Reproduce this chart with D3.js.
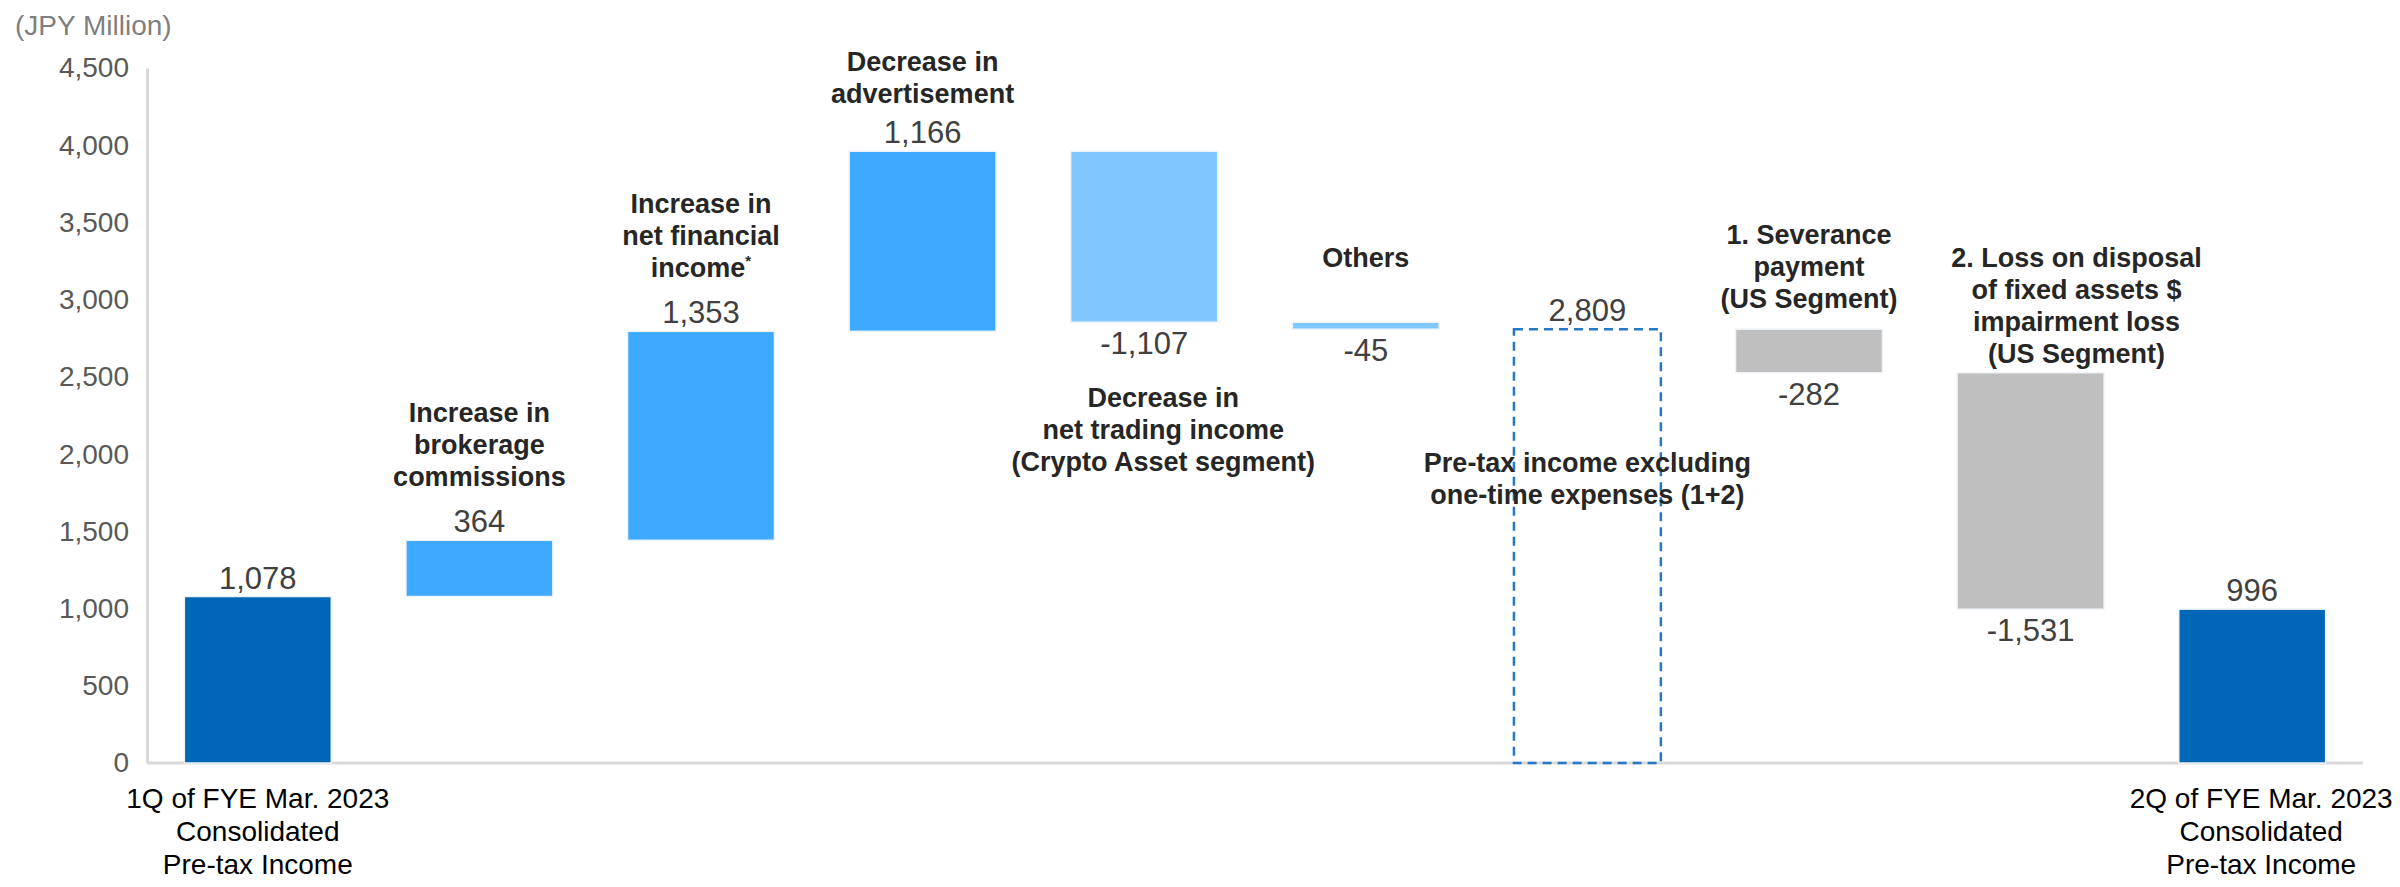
<!DOCTYPE html>
<html>
<head>
<meta charset="utf-8">
<script src="https://cdn.jsdelivr.net/npm/d3@7"></script>
<style>
  body { margin: 0; background: #ffffff; }
  svg { display: block; font-family: "Liberation Sans", Arial, sans-serif; }
</style>
</head>
<body>
<div class="waterfall"></div>
<script>
//Chart data
const categories = ["q1", "brokerage", "financial", "advertisement", "trading", "others", "excluding", "severance", "disposal", "q2"];
const values = [1078, 364, 1353, 1166, -1107, -45, 2809, -282, -1531, 996];
const kinds = ["total", "up", "up", "up", "down", "down", "subtotal", "cost", "cost", "total"];
const yTicks = [0, 500, 1000, 1500, 2000, 2500, 3000, 3500, 4000, 4500];
const unitLabel = "(JPY Million)";
const bottomLabels = {
    q1: ["1Q of FYE Mar. 2023", "Consolidated", "Pre-tax Income"],
    q2: ["2Q of FYE Mar. 2023", "Consolidated", "Pre-tax Income"]
};
const barLabels = {
    brokerage: ["Increase in", "brokerage", "commissions"],
    financial: ["Increase in", "net financial", "income"],
    advertisement: ["Decrease in", "advertisement"],
    trading: ["Decrease in", "net trading income", "(Crypto Asset segment)"],
    others: ["Others"],
    excluding: ["Pre-tax income excluding", "one-time expenses (1+2)"],
    severance: ["1. Severance", "payment", "(US Segment)"],
    disposal: ["2. Loss on disposal", "of fixed assets $", "impairment loss", "(US Segment)"]
};

//Styles and layout
const colors = {
    total: "#0067b6",
    up: "#3daaff",
    down: "#80c6ff",
    cost: "#bfbfbf",
    subtotal: "#2878c8"
};
//first line centre (px) and horizontal nudge for each label block
const labelLayout = {
    brokerage: { y: 412, dx: 0 },
    financial: { y: 203, dx: 0 },
    advertisement: { y: 61, dx: 0 },
    trading: { y: 397, dx: 19 },
    others: { y: 257, dx: 0 },
    excluding: { y: 462, dx: 0 },
    severance: { y: 234, dx: 0 },
    disposal: { y: 257, dx: 46 }
};
const lineGap = 32;

const width = 2400, height = 887;
const margin = { left: 147, right: 37, top: 68, bottom: 124 };

const svg = d3.select(".waterfall")
    .append("svg")
    .attr("width", width)
    .attr("height", height);

const x = d3.scaleBand()
    .domain(categories)
    .range([margin.left, width - margin.right])
    .paddingInner(0.337)
    .paddingOuter(0.1685);

const y = d3.scaleLinear()
    .domain([0, 4500])
    .range([height - margin.bottom, margin.top]);

const fmt = v => (v < 0 ? "-" : "") + d3.format(",")(Math.abs(v));

//Running totals
let running = 0;
const bars = categories.map((c, i) => {
    const v = values[i];
    let start, end;
    if (kinds[i] === "total" || kinds[i] === "subtotal") {
        start = 0; end = v; running = v;
    } else {
        start = running; end = running + v; running = end;
    }
    return { key: c, value: v, kind: kinds[i], lo: Math.min(start, end), hi: Math.max(start, end) };
});

//Unit label
svg.append("text")
    .attr("x", 15)
    .attr("y", 35)
    .style("font-size", "28px")
    .style("fill", "#7f7f7f")
    .text(unitLabel);

//Y axis
const yAxis = svg.append("g")
    .attr("transform", `translate(${margin.left},0)`)
    .call(d3.axisLeft(y).tickValues(yTicks).tickFormat(d3.format(",")).tickSize(0).tickPadding(18));
yAxis.select(".domain").attr("stroke", "#d9d9d9").attr("stroke-width", 3);
yAxis.selectAll("text")
    .style("font-size", "28px")
    .style("fill", "#595959")
    .style("font-family", "Liberation Sans, Arial, sans-serif");

//Baseline
svg.append("line")
    .attr("x1", margin.left)
    .attr("x2", width - margin.right)
    .attr("y1", y(0))
    .attr("y2", y(0))
    .attr("stroke", "#d9d9d9")
    .attr("stroke-width", 3);

//Bars
svg.selectAll("rect.bar")
    .data(bars.filter(d => d.kind !== "subtotal"))
    .enter()
    .append("rect")
    .attr("class", "bar")
    .attr("x", d => x(d.key))
    .attr("y", d => y(d.hi))
    .attr("width", x.bandwidth())
    .attr("height", d => y(d.lo) - y(d.hi))
    .attr("fill", d => colors[d.kind])
    .attr("stroke", "#eef3f8")
    .attr("stroke-width", 1.5);

//Dashed subtotal
svg.selectAll("rect.subtotal")
    .data(bars.filter(d => d.kind === "subtotal"))
    .enter()
    .append("rect")
    .attr("class", "subtotal")
    .attr("x", d => x(d.key))
    .attr("y", d => y(d.hi))
    .attr("width", x.bandwidth())
    .attr("height", d => y(d.lo) - y(d.hi))
    .attr("fill", "none")
    .attr("stroke", colors.subtotal)
    .attr("stroke-width", 2.5)
    .attr("stroke-dasharray", "9,6");

//Value labels
svg.selectAll("text.value")
    .data(bars)
    .enter()
    .append("text")
    .attr("class", "value")
    .attr("x", d => x(d.key) + x.bandwidth() / 2)
    .attr("y", d => (d.value < 0 ? y(d.lo) + 21 : y(d.hi) - 19) + 11)
    .attr("text-anchor", "middle")
    .style("font-size", "31px")
    .style("fill", "#404040")
    .text(d => fmt(d.value));

//Bar description labels
Object.keys(barLabels).forEach(key => {
    const lay = labelLayout[key];
    const t = svg.append("text")
        .attr("text-anchor", "middle")
        .style("font-size", "27px")
        .style("font-weight", "bold")
        .style("fill", "#262626");
    barLabels[key].forEach((line, i) => {
        t.append("tspan")
            .attr("x", x(key) + x.bandwidth() / 2 + lay.dx)
            .attr("y", lay.y + i * lineGap + 10)
            .text(line);
        if (key === "financial" && i === 2) {
            //footnote mark
            t.append("tspan")
                .attr("dy", -11)
                .style("font-size", "15px")
                .text("*");
        }
    });
});

//Bottom category labels
Object.keys(bottomLabels).forEach(key => {
    const t = svg.append("text")
        .attr("text-anchor", "middle")
        .style("font-size", "28px")
        .style("fill", "#000000");
    bottomLabels[key].forEach((line, i) => {
        t.append("tspan")
            .attr("x", x(key) + x.bandwidth() / 2 + (key === "q2" ? 9 : 0))
            .attr("y", 808 + i * 33)
            .text(line);
    });
});
</script>
</body>
</html>
